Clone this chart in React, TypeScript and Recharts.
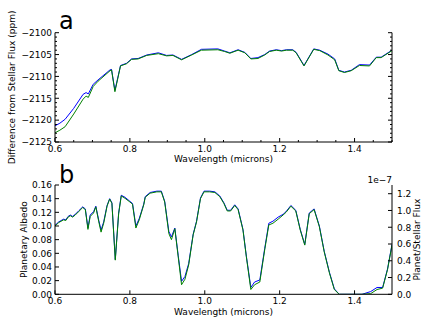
import React from 'react';
import { LineChart, Line, XAxis, YAxis } from 'recharts';

const FONT = '"DejaVu Sans", "Bitstream Vera Sans", sans-serif';
const BLUE = '#0000ff';
const GREEN = '#008000';

// ---------- Panel a : difference from stellar flux (ppm) ----------
const waveA = [0.6, 0.613, 0.627, 0.65, 0.675, 0.683, 0.689, 0.702, 0.715, 0.747, 0.751, 0.76, 0.775, 0.791, 0.8045, 0.822, 0.845, 0.876, 0.898, 0.915, 0.938, 0.965, 0.991, 1.035, 1.053, 1.067, 1.089, 1.107, 1.123, 1.142, 1.16, 1.173, 1.191, 1.205, 1.218, 1.235, 1.244, 1.265, 1.291, 1.307, 1.329, 1.347, 1.358, 1.373, 1.391, 1.413, 1.44, 1.458, 1.471, 1.5];
const diffBlue = [-2121.3, -2120.7, -2119.8, -2117.3, -2114.1, -2113.7, -2114.0, -2111.8, -2110.8, -2108.5, -2108.4, -2113.2, -2107.5, -2107.0, -2106.0, -2105.9, -2105.1, -2104.6, -2105.2, -2105.1, -2106.1, -2105.0, -2103.8, -2103.7, -2104.2, -2104.6, -2103.9, -2104.5, -2105.9, -2105.7, -2105.0, -2104.2, -2103.9, -2104.1, -2103.9, -2103.9, -2104.5, -2107.5, -2103.7, -2104.0, -2104.9, -2106.0, -2108.6, -2109.0, -2108.6, -2107.3, -2107.4, -2105.6, -2105.6, -2104.0];
const diffGreen = [-2122.9, -2122.3, -2121.5, -2118.6, -2115.2, -2114.5, -2114.8, -2112.3, -2111.1, -2108.7, -2108.5, -2113.5, -2107.6, -2107.1, -2106.1, -2106.0, -2105.2, -2104.8, -2105.3, -2105.2, -2106.2, -2105.1, -2104.0, -2103.9, -2104.3, -2104.7, -2104.0, -2104.6, -2106.0, -2105.9, -2105.1, -2104.3, -2104.0, -2104.2, -2104.0, -2104.0, -2104.6, -2107.6, -2103.8, -2104.1, -2105.1, -2106.2, -2108.7, -2109.1, -2108.7, -2107.5, -2107.6, -2105.7, -2105.7, -2104.1];

// ---------- Panel b : planetary albedo ----------
const waveB = [0.6, 0.61, 0.623, 0.629, 0.635, 0.641, 0.647, 0.654, 0.663, 0.674, 0.681, 0.688, 0.694, 0.703, 0.709, 0.717, 0.723, 0.73, 0.739, 0.746, 0.752, 0.761, 0.77, 0.777, 0.787, 0.798, 0.807, 0.816, 0.825, 0.837, 0.841, 0.854, 0.872, 0.884, 0.893, 0.904, 0.911, 0.92, 0.929, 0.938, 0.947, 0.957, 0.969, 0.978, 0.9885, 0.998, 1.013, 1.027, 1.04, 1.051, 1.06, 1.069, 1.08, 1.089, 1.102, 1.111, 1.123, 1.133, 1.147, 1.16, 1.171, 1.182, 1.196, 1.209, 1.217, 1.23, 1.243, 1.255, 1.267, 1.279, 1.292, 1.306, 1.319, 1.333, 1.346, 1.359, 1.38, 1.4, 1.42, 1.443, 1.46, 1.475, 1.488, 1.5];
const albedoBlue = [0.101, 0.106, 0.110, 0.109, 0.114, 0.116, 0.114, 0.117, 0.122, 0.128, 0.125, 0.097, 0.116, 0.121, 0.129, 0.108, 0.094, 0.106, 0.130, 0.140, 0.134, 0.051, 0.119, 0.145, 0.142, 0.137, 0.133, 0.100, 0.111, 0.132, 0.143, 0.149, 0.151, 0.151, 0.136, 0.092, 0.084, 0.097, 0.057, 0.019, 0.026, 0.045, 0.088, 0.107, 0.141, 0.151, 0.151, 0.150, 0.144, 0.134, 0.123, 0.123, 0.131, 0.125, 0.095, 0.056, 0.010, 0.018, 0.021, 0.067, 0.104, 0.107, 0.113, 0.117, 0.121, 0.130, 0.123, 0.095, 0.073, 0.119, 0.125, 0.100, 0.063, 0.032, 0.008, 0, 0, 0, 0, 0.004, 0.010, 0.010, 0.037, 0.073];
const albedoGreen = [0.100, 0.105, 0.109, 0.108, 0.113, 0.115, 0.113, 0.116, 0.121, 0.127, 0.124, 0.095, 0.114, 0.119, 0.128, 0.106, 0.091, 0.104, 0.129, 0.1395, 0.133, 0.050, 0.118, 0.144, 0.1405, 0.136, 0.132, 0.097, 0.109, 0.131, 0.142, 0.148, 0.150, 0.150, 0.135, 0.089, 0.080, 0.096, 0.055, 0.014, 0.022, 0.043, 0.087, 0.106, 0.140, 0.150, 0.150, 0.149, 0.143, 0.133, 0.122, 0.122, 0.130, 0.124, 0.094, 0.055, 0.007, 0.014, 0.018, 0.065, 0.1015, 0.104, 0.110, 0.116, 0.120, 0.129, 0.122, 0.094, 0.072, 0.118, 0.124, 0.099, 0.062, 0.031, 0.007, 0, 0, 0, 0, 0.001, 0.007, 0.009, 0.036, 0.072];

// ---------- Ticks ----------
const xTicksA = [0.6, 0.65, 0.7, 0.75, 0.8, 0.85, 0.9, 0.95, 1.0, 1.05, 1.1, 1.15, 1.2, 1.25, 1.3, 1.35, 1.4, 1.45, 1.5];
const yTicksA = [-2125, -2124, -2123, -2122, -2121, -2120, -2119, -2118, -2117, -2116, -2115, -2114, -2113, -2112, -2111, -2110, -2109, -2108, -2107, -2106, -2105, -2104, -2103, -2102, -2101, -2100];
const xTicksB = [0.6, 0.8, 1.0, 1.2, 1.4];
const yTicksB = [0, 0.02, 0.04, 0.06, 0.08, 0.1, 0.12, 0.14, 0.16];
const fluxTicksB = [0, 0.2, 0.4, 0.6, 0.8, 1.0, 1.2];

const dataA = waveA.map((w, i) => ({ w, blue: diffBlue[i], green: diffGreen[i] }));
const dataB = waveB.map((w, i) => ({ w, blue: albedoBlue[i], green: albedoGreen[i] }));

const near = (a: number, b: number) => Math.abs(a - b) < 1e-6;
const onStep = (v: number, base: number, step: number) => {
  const k = (v - base) / step;
  return Math.abs(k - Math.round(k)) < 1e-6;
};

type Side = 'bottom' | 'top' | 'left' | 'right';
function makeTick(side: Side, isMajor: (v: number) => boolean, format?: (v: number) => string) {
  return (props: any) => {
    const { x, y, payload } = props;
    const v = payload.value as number;
    const major = isMajor(v);
    const len = major ? 4 : 2;
    let line: any = null;
    let label: any = null;
    const txt = major && format ? format(v) : null;
    if (side === 'bottom') {
      line = <line x1={x} y1={y} x2={x} y2={y - len} stroke="#000" strokeWidth={1} />;
      if (txt) label = <text x={x} y={y + 9.5} textAnchor="middle" fontSize={9} fontFamily={FONT} fill="#000">{txt}</text>;
    } else if (side === 'top') {
      line = <line x1={x} y1={y} x2={x} y2={y + len} stroke="#000" strokeWidth={1} />;
    } else if (side === 'left') {
      line = <line x1={x} y1={y} x2={x + len} y2={y} stroke="#000" strokeWidth={1} />;
      if (txt) label = <text x={x - 3} y={y + 3.3} textAnchor="end" fontSize={9} fontFamily={FONT} fill="#000">{txt}</text>;
    } else {
      line = <line x1={x} y1={y} x2={x - len} y2={y} stroke="#000" strokeWidth={1} />;
      if (txt) label = <text x={x + 5} y={y + 3.3} textAnchor="start" fontSize={9} fontFamily={FONT} fill="#000">{txt}</text>;
    }
    return (
      <g>
        {line}
        {label}
      </g>
    );
  };
}

const fmtX = (v: number) => v.toFixed(1);
const fmtPpm = (v: number) => (v < 0 ? '\u2212' + Math.abs(v).toFixed(0) : v.toFixed(0));
const fmtAlb = (v: number) => v.toFixed(2);
const fmtFlux = (v: number) => v.toFixed(1);

const xMajor = (v: number) => onStep(v, 0.6, 0.2) && v < 1.45;
const yMajorA = (v: number) => onStep(v, -2125, 5);

const axisCommon = {
  tickSize: 0,
  tickMargin: 0,
  tickLine: false,
  interval: 0 as const,
  allowDataOverflow: true,
  axisLine: { stroke: '#000', strokeWidth: 1 },
};

export default function App() {
  return (
    <div style={{ position: 'absolute', left: 0, top: 0, width: 436, height: 327, background: '#fff', overflow: 'hidden' }}>
      <div style={{ position: 'absolute', left: 0, top: 0 }}>
        <LineChart width={436} height={163} data={dataA} margin={{ top: 32.7, right: 0, bottom: 0, left: 0 }}>
          <XAxis xAxisId="bottom" dataKey="w" type="number" domain={[0.6, 1.5]} ticks={xTicksA} height={21} {...axisCommon} tick={makeTick('bottom', xMajor, fmtX)} />
          <XAxis xAxisId="top" orientation="top" dataKey="w" type="number" domain={[0.6, 1.5]} ticks={xTicksA} height={0} {...axisCommon} tick={makeTick('top', xMajor)} />
          <YAxis yAxisId="left" type="number" domain={[-2125, -2100]} ticks={yTicksA} width={55} {...axisCommon} tick={makeTick('left', yMajorA, fmtPpm)} />
          <YAxis yAxisId="right" orientation="right" type="number" domain={[-2125, -2100]} ticks={yTicksA} width={44} {...axisCommon} tick={makeTick('right', yMajorA)} />
          <Line xAxisId="bottom" yAxisId="left" type="linear" dataKey="blue" stroke={BLUE} strokeWidth={1} dot={false} isAnimationActive={false} />
          <Line xAxisId="bottom" yAxisId="left" type="linear" dataKey="green" stroke={GREEN} strokeWidth={1} dot={false} isAnimationActive={false} />
        </LineChart>
      </div>
      <div style={{ position: 'absolute', left: 0, top: 163 }}>
        <LineChart width={436} height={164} data={dataB} margin={{ top: 22, right: 0, bottom: 0, left: 0 }}>
          <XAxis xAxisId="bottom" dataKey="w" type="number" domain={[0.6, 1.5]} ticks={xTicksB} height={32.7} {...axisCommon} tick={makeTick('bottom', () => true, fmtX)} />
          <XAxis xAxisId="top" orientation="top" dataKey="w" type="number" domain={[0.6, 1.5]} ticks={xTicksB} height={0} {...axisCommon} tick={makeTick('top', () => true)} />
          <YAxis yAxisId="left" type="number" domain={[0, 0.16]} ticks={yTicksB} width={55} {...axisCommon} tick={makeTick('left', () => true, fmtAlb)} />
          <YAxis yAxisId="right" orientation="right" type="number" domain={[0, 1.304]} ticks={fluxTicksB} width={44} {...axisCommon} tick={makeTick('right', () => true, fmtFlux)} />
          <Line xAxisId="bottom" yAxisId="left" type="linear" dataKey="blue" stroke={BLUE} strokeWidth={1} dot={false} isAnimationActive={false} />
          <Line xAxisId="bottom" yAxisId="left" type="linear" dataKey="green" stroke={GREEN} strokeWidth={1} dot={false} isAnimationActive={false} />
        </LineChart>
      </div>
      <svg width={436} height={327} style={{ position: 'absolute', left: 0, top: 0, pointerEvents: 'none' }} fontFamily={FONT} fill="#000">
        <text x={59} y={29} fontSize={24}>a</text>
        <text x={59} y={182.5} fontSize={24}>b</text>
        <text x={223.5} y={161.5} fontSize={9} textAnchor="middle">Wavelength (microns)</text>
        <text x={223.5} y={315} fontSize={9} textAnchor="middle">Wavelength (microns)</text>
        <text x={15.5} y={87.4} fontSize={9} textAnchor="middle" transform="rotate(-90, 15.5, 87.4)">Difference from Stellar Flux (ppm)</text>
        <text x={27} y={239.7} fontSize={9} textAnchor="middle" transform="rotate(-90, 27, 239.7)">Planetary Albedo</text>
        <text x={420} y={239.7} fontSize={9} textAnchor="middle" transform="rotate(-90, 420, 239.7)">Planet/Stellar Flux</text>
        <text x={392} y={182.5} fontSize={9} textAnchor="end">1e{'\u2212'}7</text>
      </svg>
    </div>
  );
}
